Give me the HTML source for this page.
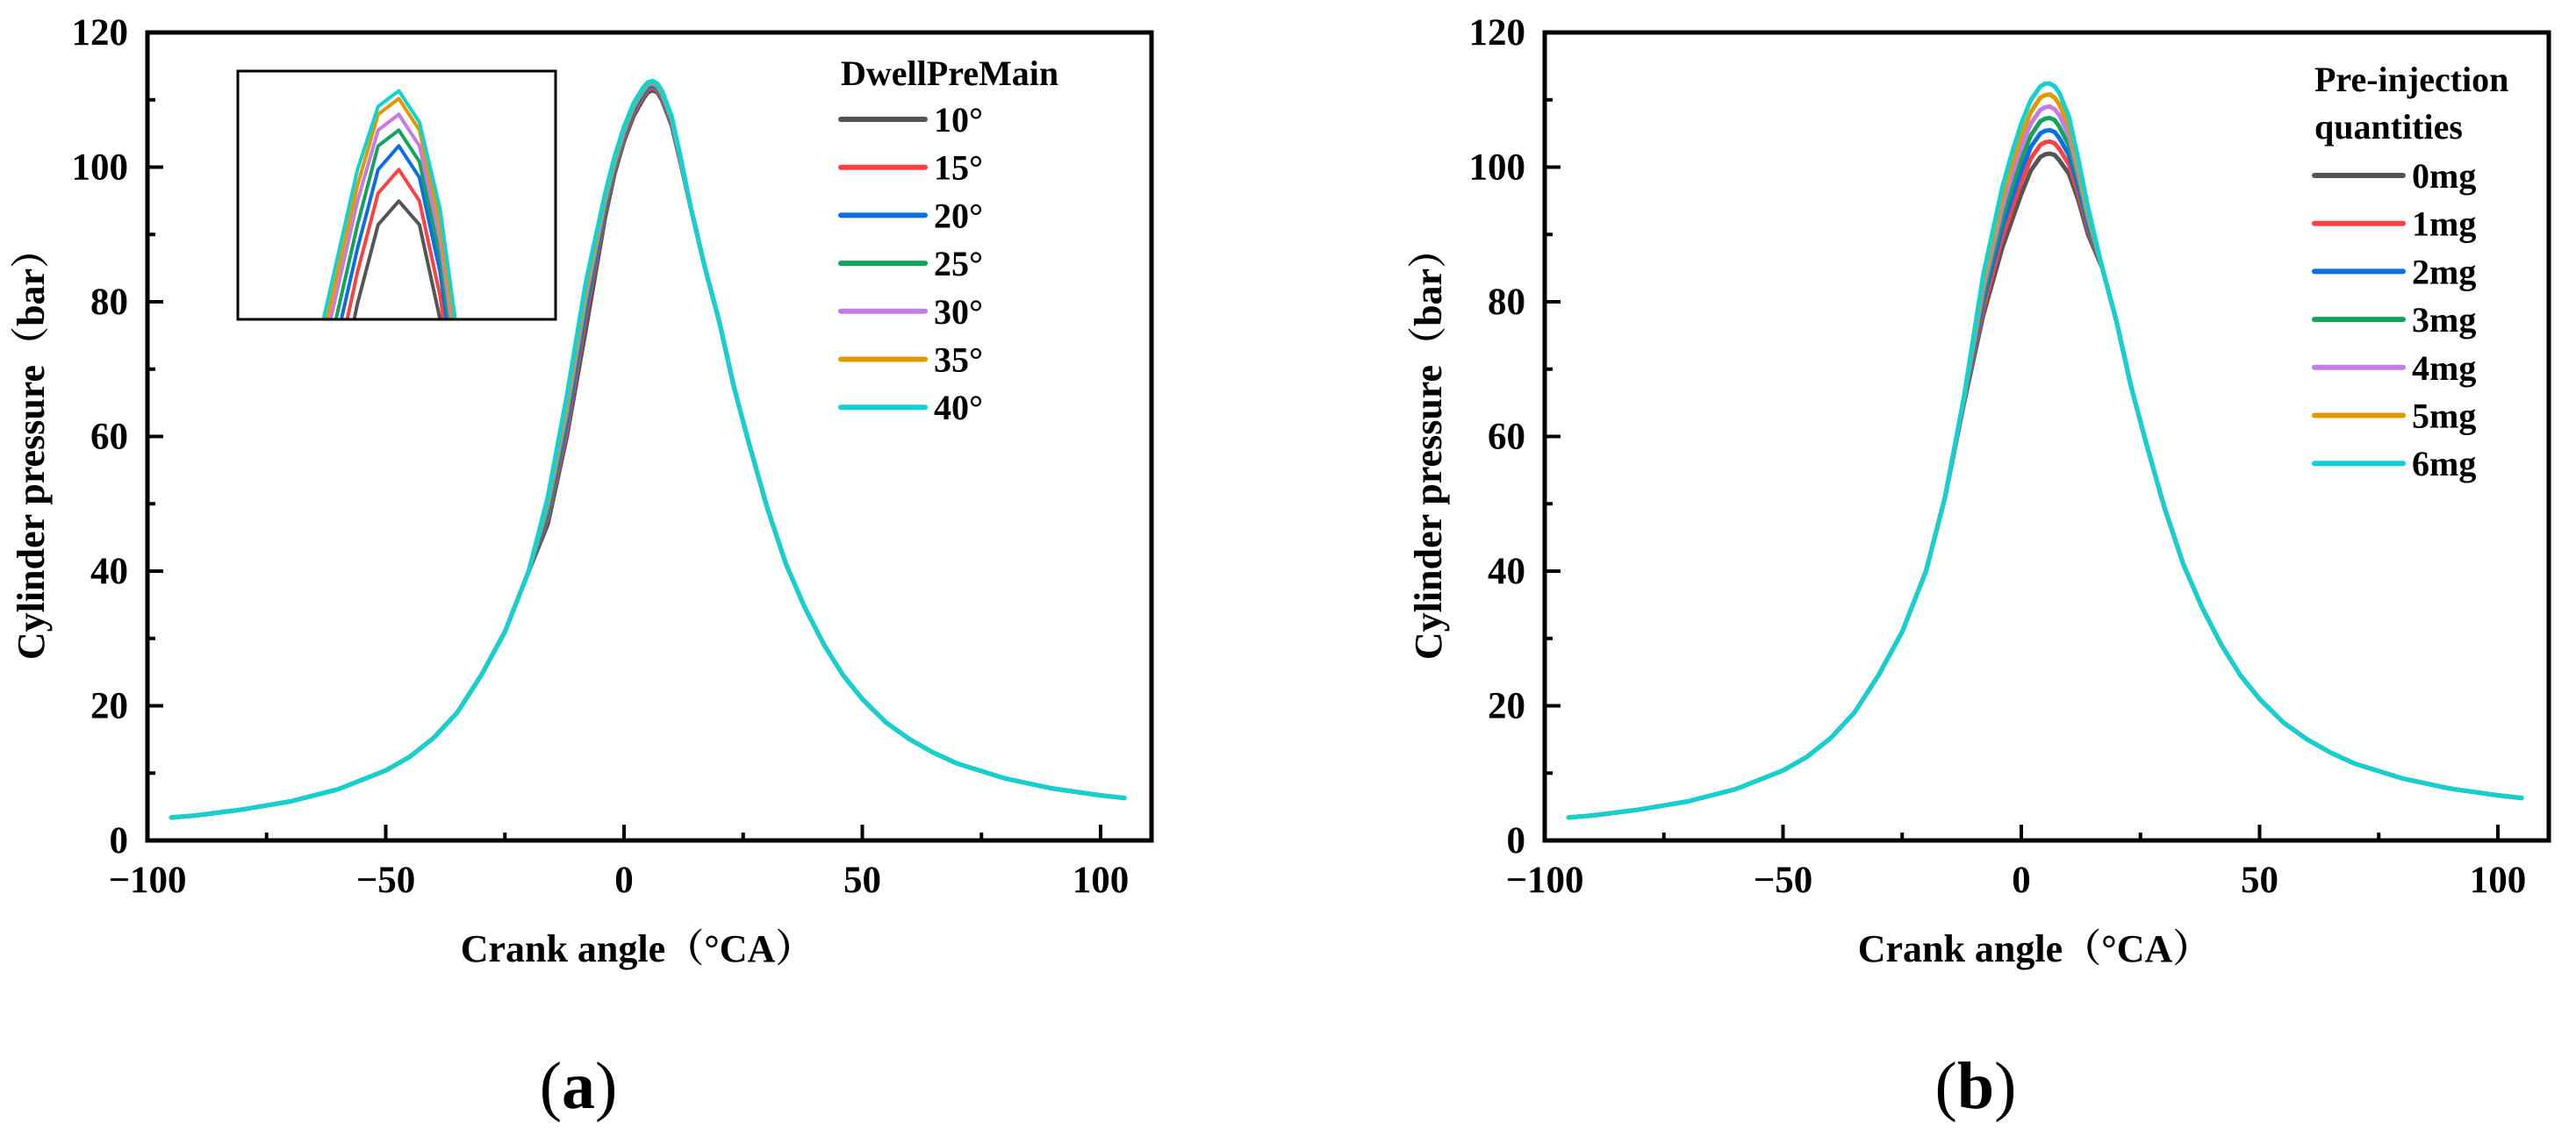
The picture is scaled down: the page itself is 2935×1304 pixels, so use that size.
<!DOCTYPE html>
<html><head><meta charset="utf-8"><style>
html,body{margin:0;padding:0;background:#fff;overflow:hidden;width:2935px;height:1304px;position:relative;}
svg{display:block;position:absolute;left:0;top:0;font-family:"Liberation Serif","Noto Serif CJK SC",serif;font-weight:bold;}
</style></head><body>
<svg id="fig" width="2935" height="1304" viewBox="0 0 2935 1304" overflow="hidden" xmlns="http://www.w3.org/2000/svg">
<defs>
<clipPath id="clipA"><rect x="168" y="37" width="1144" height="921"/></clipPath>
<clipPath id="clipB"><rect x="1760" y="37" width="1145" height="921"/></clipPath>
<clipPath id="clipInset"><rect x="271" y="81" width="362" height="283"/></clipPath>
</defs>
</svg>
<script>
// ---- data ----
const baseX = [-95,-90,-80,-70,-60,-50,-45,-40,-35,-30,-25,-20,-16,-12,-8,-4,-2,0,2,4,5,6,7,8,10,12,14,17,20,23,26,30,34,38,42,46,50,55,60,65,70,80,90,100,105];
const baseY = [3.4,3.7,4.6,5.8,7.6,10.4,12.4,15.2,19.0,24.5,31,40,51,66,83,96,101.5,106,109.5,111.8,112.6,112.8,112.4,111.3,107.5,101,94,85,77,67.5,59.5,49.5,41,34.5,29,24.5,21,17.5,15,13,11.4,9.2,7.7,6.7,6.3];
const peakX = [-16,-12,-8,-4,-2,0,2,4,5,6,7,8,10,12,14];
const seriesNamesA = ["10°","15°","20°","25°","30°","35°","40°"];
const seriesNamesB = ["0mg","1mg","2mg","3mg","4mg","5mg","6mg"];
const colors = ["#555555","#ff4040","#0a6ee6","#10a55a","#c77ae6","#e09a00","#10d2d2"];
const peakA0 = [47,60,76,92.5,99,103.9,107.6,110.1,111.1,111.4,111.1,109.9,106.2,100.2,94];
const peakA1 = [48,61,78,93.5,99.6,104.4,108.1,110.5,111.5,111.8,111.4,110.2,106.5,100.3,94];
const peakA2 = [48.5,62,79,94,100,104.8,108.5,110.8,111.8,112.1,111.7,110.5,106.7,100.4,94];
const peakA3 = [49,63,80,94.5,100.3,105.1,108.8,111.1,112.1,112.3,111.9,110.7,106.9,100.5,94];
const peakA4 = [50,64,81,95,100.7,105.4,109.1,111.4,112.3,112.5,112.1,110.9,107.1,100.6,94];
const peakA5 = [50.5,65,82,95.5,101,105.7,109.3,111.6,112.5,112.7,112.3,111.1,107.3,100.8,94];
const peakA6 = [51,66,83,96,101.5,106,109.5,111.8,112.6,112.8,112.4,111.3,107.5,101,94];
const peakB0 = [51,65,78,88,92,96,99.5,101.5,101.9,102,101.8,101,99,95,90];
const peakB1 = [51,65.2,79,89.5,93.7,97.8,101.3,103.3,103.7,103.8,103.5,102.7,100.4,96,90.7];
const peakB2 = [51,65.3,80,91,95.3,99.5,103,105,105.4,105.5,105.2,104.3,101.8,97,91.3];
const peakB3 = [51,65.5,81,92.5,97,101.2,104.7,106.8,107.2,107.3,107,106,103.2,98,92];
const peakB4 = [51,65.7,82,94,98.7,103,106.5,108.5,108.9,109,108.6,107.7,104.7,99,92.7];
const peakB5 = [51,65.8,83,95.5,100.3,104.7,108.2,110.3,110.7,110.8,110.3,109.3,106.1,100,93.3];
const peakB6 = [51,66,84,97,102,106.5,110,112,112.4,112.4,112,111,107.5,101,94];
const peaksA = [peakA0,peakA1,peakA2,peakA3,peakA4,peakA5,peakA6];
const peaksB = [peakB0,peakB1,peakB2,peakB3,peakB4,peakB5,peakB6];
const xTicks = [-100,-50,0,50,100];
const xTickLabels = ["\u2212100","\u221250","0","50","100"];
const yTicks = [0,20,40,60,80,100,120];

const NS="http://www.w3.org/2000/svg";
const svg=document.getElementById('fig');
function mk(tag,attrs,parent){const e=document.createElementNS(NS,tag);for(const k in attrs)e.setAttribute(k,attrs[k]);(parent||svg).appendChild(e);return e;}

function seriesPoints(peak){
  const pts=[];
  for(let i=0;i<baseX.length;i++){
    const j=peakX.indexOf(baseX[i]);
    pts.push([baseX[i], j>=0?peak[j]:baseY[i]]);
  }
  return pts;
}

function drawPanel(p){
  const L=p.left, T=37, B=958, R=p.left+1144;
  const xs=v=>L+(v+100)*5.43;
  const ys=v=>B-(v)*(B-T)/120;
  const g=mk('g',{});
  
  
  const sg=mk('g',{'clip-path':'url(#'+p.clip+')'},g);
  
  
  p.peaks.forEach((pk,k)=>{
    const pts=seriesPoints(pk);
    const d=pts.map((q,i)=>(i?'L':'M')+xs(q[0]).toFixed(1)+','+ys(q[1]).toFixed(1)).join(' ');
    const pe=mk('path',{d:d,fill:'none',stroke:colors[k],'stroke-width':5,'stroke-linejoin':'round','stroke-linecap':'round'},sg);
    
    
  });
  const fr=mk('rect',{x:L,y:T,width:R-L,height:B-T,fill:'none',stroke:'#000','stroke-width':5},g);
  
  
  for(let v=-100;v<=110;v+=25){
    const major=(v%50===0);
    const t=mk('line',{x1:xs(v),x2:xs(v),y1:B,y2:B-(major?18:9),stroke:'#000','stroke-width':4},g);
    
    
  }
  xTicks.forEach((v,i)=>{
    const t=mk('text',{x:xs(v),y:1017,'text-anchor':'middle','font-size':43},g);
    t.textContent=xTickLabels[i];
    
    
  });
  for(let v=0;v<=120;v+=10){
    const major=(v%20===0);
    const t=mk('line',{x1:L,x2:L+(major?18:9),y1:ys(v),y2:ys(v),stroke:'#000','stroke-width':4},g);
    
    
  }
  yTicks.forEach(v=>{
    const t=mk('text',{x:L-22,y:ys(v)+14,'text-anchor':'end','font-size':43},g);
    t.textContent=String(v);
    
    
  });
  const yt=mk('text',{x:0,y:0,'text-anchor':'middle','font-size':44,transform:'translate('+(L-118)+',507) rotate(-90)'},g);
  yt.textContent='Cylinder pressure（bar）';
  
  
  const xt=mk('text',{x:L+558,y:1096,'text-anchor':'middle','font-size':44},g);
  xt.textContent='Crank angle（°CA）';
  
  
  const pl=mk('text',{x:L+491,y:1263,'text-anchor':'middle','font-size':76},g);
  pl.innerHTML='<tspan font-weight="normal">(</tspan>'+p.id.slice(-1)+'<tspan font-weight="normal">)</tspan>';
  
  
  const lg=mk('g',{},g);
  
  
  p.legendTitle.forEach((s,i)=>{
    const t=mk('text',{x:p.lgX,y:p.lgTitleY+i*54,'font-size':40},lg);
    t.textContent=s;
    
    
  });
  p.names.forEach((n,k)=>{
    const y=p.lgY0+k*p.lgDy;
    const ln=mk('line',{x1:p.lgX,x2:p.lgX+p.lgW,y1:y,y2:y,stroke:colors[k],'stroke-width':6,'stroke-linecap':'round'},lg);
    
    
    const t=mk('text',{x:p.lgX+p.lgW+10,y:y+14,'font-size':40},lg);
    t.textContent=n;
    
    
  });
}

drawPanel({id:'panel-a',left:168,clip:'clipA',peaks:peaksA,names:seriesNamesA,legendTitle:['DwellPreMain'],lgX:958,lgTitleY:97,lgY0:136,lgDy:54.7,lgW:96});
drawPanel({id:'panel-b',left:1760,clip:'clipB',peaks:peaksB,names:seriesNamesB,legendTitle:['Pre-injection','quantities'],lgX:2637,lgTitleY:104,lgY0:200,lgDy:54.7,lgW:101});

(function(){
  const IL=271,IT=81,IR=633,IB=364;
  const x0=-1.8,x1=13.6,y0=109.9,y1=113.05;
  const xs=v=>IL+(v-x0)*(IR-IL)/(x1-x0);
  const ys=v=>IB-(v-y0)*(IB-IT)/(y1-y0);
  const g=mk('g',{});
  
  
  const bg=mk('rect',{x:IL,y:IT,width:IR-IL,height:IB-IT,fill:'#fff'},g);
  
  
  const sg=mk('g',{'clip-path':'url(#clipInset)'},g);
  
  
  peaksA.forEach((pk,k)=>{
    const d=peakX.map((x,i)=>(i?'L':'M')+xs(x).toFixed(1)+','+ys(pk[i]).toFixed(1)).join(' ');
    const pe=mk('path',{d:d,fill:'none',stroke:colors[k],'stroke-width':4,'stroke-linejoin':'round'},sg);
    
    
  });
  const fr=mk('rect',{x:IL,y:IT,width:IR-IL,height:IB-IT,fill:'none',stroke:'#000','stroke-width':3},g);
  
  
})();
</script>
</body></html>
